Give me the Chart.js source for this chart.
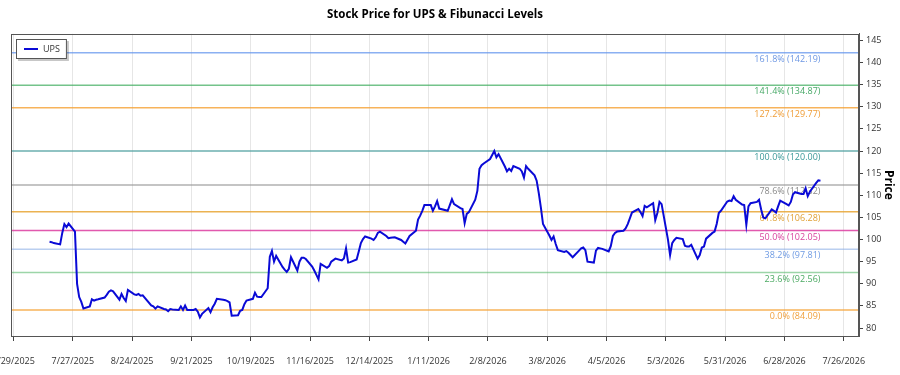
<!DOCTYPE html>
<html>
<head>
<meta charset="utf-8">
<title>Stock Price for UPS &amp; Fibunacci Levels</title>
<script src="https://cdn.jsdelivr.net/npm/chart.js@4.4.1/dist/chart.umd.min.js"></script>
<style>
    html, body { margin: 0; padding: 0; background: #fff; }
    #wrap { width: 900px; height: 375px; }
</style>
</head>
<body>
<div id="wrap"><canvas id="chart" width="900" height="375"></canvas></div>
<script>
// --- Data ---
const tickerName = 'UPS';
const chartTitle = 'Stock Price for UPS & Fibunacci Levels';
const yAxisTitle = 'Price';

const tradeDates = [
    '2025-07-16','2025-07-17','2025-07-18','2025-07-21','2025-07-22','2025-07-23','2025-07-24','2025-07-25',
    '2025-07-28','2025-07-29','2025-07-30','2025-07-31','2025-08-01','2025-08-04','2025-08-05','2025-08-06',
    '2025-08-07','2025-08-08','2025-08-11','2025-08-12','2025-08-13','2025-08-14','2025-08-15','2025-08-18',
    '2025-08-19','2025-08-20','2025-08-21','2025-08-22','2025-08-25','2025-08-26','2025-08-27','2025-08-28',
    '2025-08-29','2025-09-02','2025-09-03','2025-09-04','2025-09-05','2025-09-08','2025-09-09','2025-09-10',
    '2025-09-11','2025-09-12','2025-09-15','2025-09-16','2025-09-17','2025-09-18','2025-09-19','2025-09-22',
    '2025-09-23','2025-09-24','2025-09-25','2025-09-26','2025-09-29','2025-09-30','2025-10-01','2025-10-02',
    '2025-10-03','2025-10-06','2025-10-07','2025-10-08','2025-10-09','2025-10-10','2025-10-13','2025-10-14',
    '2025-10-15','2025-10-16','2025-10-17','2025-10-20','2025-10-21','2025-10-22','2025-10-23','2025-10-24',
    '2025-10-27','2025-10-28','2025-10-29','2025-10-30','2025-10-31','2025-11-03','2025-11-04','2025-11-05',
    '2025-11-06','2025-11-07','2025-11-10','2025-11-11','2025-11-12','2025-11-13','2025-11-14','2025-11-17',
    '2025-11-18','2025-11-19','2025-11-20','2025-11-21','2025-11-24','2025-11-25','2025-11-26','2025-11-28',
    '2025-12-01','2025-12-02','2025-12-03','2025-12-04','2025-12-05','2025-12-08','2025-12-09','2025-12-10',
    '2025-12-11','2025-12-12','2025-12-15','2025-12-16','2025-12-17','2025-12-18','2025-12-19','2025-12-22',
    '2025-12-23','2025-12-24','2025-12-26','2025-12-29','2025-12-30','2025-12-31','2026-01-02','2026-01-05',
    '2026-01-06','2026-01-07','2026-01-08','2026-01-09','2026-01-12','2026-01-13','2026-01-14','2026-01-15',
    '2026-01-16','2026-01-20','2026-01-21','2026-01-22','2026-01-23','2026-01-26','2026-01-27','2026-01-28',
    '2026-01-29','2026-01-30','2026-02-02','2026-02-03','2026-02-04','2026-02-05','2026-02-06','2026-02-09',
    '2026-02-10','2026-02-11','2026-02-12','2026-02-13','2026-02-16','2026-02-17','2026-02-18','2026-02-19',
    '2026-02-20','2026-02-23','2026-02-24','2026-02-25','2026-02-26','2026-02-27','2026-03-02','2026-03-03',
    '2026-03-04','2026-03-05','2026-03-06','2026-03-09','2026-03-10','2026-03-11','2026-03-12','2026-03-13',
    '2026-03-16','2026-03-17','2026-03-18','2026-03-19','2026-03-20','2026-03-23','2026-03-24','2026-03-25',
    '2026-03-26','2026-03-27','2026-03-30','2026-03-31','2026-04-01','2026-04-02','2026-04-03','2026-04-06',
    '2026-04-07','2026-04-08','2026-04-09','2026-04-10','2026-04-13','2026-04-14','2026-04-15','2026-04-16',
    '2026-04-17','2026-04-20','2026-04-21','2026-04-22','2026-04-23','2026-04-24','2026-04-27','2026-04-28',
    '2026-04-29','2026-04-30','2026-05-01','2026-05-04','2026-05-05','2026-05-06','2026-05-07','2026-05-08',
    '2026-05-11','2026-05-12','2026-05-13','2026-05-14','2026-05-15','2026-05-18','2026-05-19','2026-05-20',
    '2026-05-21','2026-05-22','2026-05-25','2026-05-26','2026-05-27','2026-05-28','2026-05-29','2026-06-01',
    '2026-06-02','2026-06-03','2026-06-04','2026-06-05','2026-06-08','2026-06-09','2026-06-10','2026-06-11',
    '2026-06-12','2026-06-15','2026-06-16','2026-06-17','2026-06-18','2026-06-19','2026-06-22','2026-06-23',
    '2026-06-24','2026-06-25','2026-06-26','2026-06-29','2026-06-30','2026-07-01','2026-07-02','2026-07-03',
    '2026-07-06','2026-07-07','2026-07-08','2026-07-09','2026-07-10','2026-07-13','2026-07-14','2026-07-15'
];

const closePrices = [
    99.5, 99.4, 99.2, 98.9, 101.5, 103.5, 102.8, 103.6,
    101.8, 90.0, 87.0, 85.9, 84.4, 84.9, 86.5, 86.2,
    86.4, 86.5, 86.9, 87.5, 88.2, 88.5, 88.3, 86.4,
    87.7, 86.8, 86.1, 88.6, 87.6, 87.5, 87.7, 87.3,
    87.4, 85.1, 84.9, 84.4, 84.9, 84.3, 84.2, 83.8,
    84.3, 84.2, 84.1, 84.9, 84.1, 85.1, 84.1, 84.1,
    84.3, 83.7, 82.4, 83.2, 84.5, 83.6, 84.7, 85.5,
    86.6, 86.4, 86.3, 86.1, 85.8, 82.8, 82.9, 83.9,
    84.1, 85.4, 86.2, 86.6, 88.0, 87.1, 87.0, 87.0,
    89.0, 96.1, 97.4, 95.0, 96.3, 93.8, 93.2, 92.7,
    93.4, 96.0, 93.0, 95.0, 95.9, 95.9, 95.6, 93.9,
    93.0, 92.0, 91.0, 94.5, 93.6, 94.0, 95.0, 95.7,
    95.3, 95.7, 98.0, 94.8, 94.9, 95.5, 97.3, 99.2,
    100.1, 100.7, 100.2, 99.9, 100.5, 101.5, 101.8, 100.8,
    100.3, 100.4, 100.5, 99.9, 99.5, 99.1, 100.8, 102.0,
    104.5, 105.4, 106.5, 107.8, 107.8, 106.5, 107.5, 108.7,
    107.0, 106.5, 107.8, 109.1, 108.0, 107.1, 106.9, 103.7,
    105.8, 106.2, 109.0, 111.0, 116.0, 116.8, 117.2, 118.2,
    119.1, 120.0, 118.6, 119.3, 116.5, 115.4, 116.0, 115.5,
    116.6, 116.0, 115.4, 114.0, 116.6, 116.0, 114.5, 113.3,
    110.5, 107.2, 103.5, 100.9, 99.9, 100.7, 99.0, 97.6,
    97.2, 97.4, 97.0, 96.5, 96.0, 97.5, 98.0, 98.2,
    97.6, 95.0, 94.8, 97.5, 98.1, 98.0, 97.9, 97.3,
    98.5, 100.8, 101.5, 101.8, 102.0, 102.5, 103.5, 104.8,
    106.1, 106.9, 106.2, 105.3, 107.6, 107.3, 108.2, 104.4,
    106.0, 108.5, 108.0, 100.0, 96.5, 99.2, 99.9, 100.4,
    100.1, 98.6, 98.4, 98.4, 98.8, 95.7, 96.5, 98.2,
    98.4, 100.2, 101.5, 101.8, 103.5, 106.0, 106.5, 108.6,
    108.8, 108.7, 109.8, 109.0, 107.9, 107.8, 103.3, 107.5,
    108.2, 108.5, 109.0, 106.8, 105.0, 104.8, 106.8, 106.5,
    106.1, 107.5, 108.8, 108.0, 107.7, 108.5, 110.2, 110.7,
    110.3, 110.3, 111.6, 109.8, 110.8, 112.8, 113.4, 113.3
];

const fibRatios = ['0.0%', '23.6%', '38.2%', '50.0%', '61.8%', '78.6%', '100.0%', '127.2%', '141.4%', '161.8%'];
const fibLevels = [84.09, 92.56, 97.81, 102.05, 106.28, 112.32, 120.00, 129.77, 134.87, 142.19];

const xTickLabels = ['6/29/2025', '7/27/2025', '8/24/2025', '9/21/2025', '10/19/2025', '11/16/2025', '12/14/2025',
    '1/11/2026', '2/8/2026', '3/8/2026', '4/5/2026', '5/3/2026', '5/31/2026', '6/28/2026', '7/26/2026'];
const yTickStep = 5;
const yAxisMin = 78.2;
const yAxisMax = 146.5;

// --- Estilos ---
const fibLineColors = [
    'rgba(245,166,60,0.85)', 'rgba(90,185,110,0.6)', 'rgba(140,175,230,0.6)', 'rgba(220,60,160,0.85)',
    'rgba(232,165,50,0.85)', 'rgba(150,150,150,0.75)', 'rgba(80,160,160,0.85)', 'rgba(245,160,50,0.8)',
    'rgba(70,175,100,0.75)', 'rgba(100,149,237,0.75)'
];
const fibTextColors = [
    '#f0a03c', '#4caa63', '#6f9be3', '#d9449e', '#e0a035', '#8a8a8a', '#3a9999', '#ef9c35', '#45a865', '#6d97e3'
];
const lineColor = '#0a0ad6';
const fontFamily = "'Segoe UI', 'Open Sans', sans-serif";

// --- Helpers ---
const DAY_MS = 86400000;
function parseTickLabel(s) {
    const [m, d, y] = s.split('/').map(Number);
    return Date.UTC(y, m - 1, d);
}
const originMs = parseTickLabel(xTickLabels[0]);
const dayOf = iso => (Date.parse(iso) - originMs) / DAY_MS;
const tickDays = xTickLabels.map(s => (parseTickLabel(s) - originMs) / DAY_MS);

const dataDays = tradeDates.map(dayOf);
const span = dataDays[dataDays.length - 1] - dataDays[0];
const xMin = dataDays[0] - span * 0.05;
const xMax = dataDays[dataDays.length - 1] + span * 0.05;
const lastDay = dataDays[dataDays.length - 1];

// --- Datasets ---
const priceDataset = {
    label: tickerName,
    data: dataDays.map((d, i) => ({ x: d, y: closePrices[i] })),
    borderColor: lineColor,
    borderWidth: 2,
    pointRadius: 0,
    tension: 0,
    fill: false
};

const fibDatasets = fibLevels.map((lvl, i) => ({
    label: fibRatios[i],
    data: [{ x: xMin, y: lvl }, { x: xMax, y: lvl }],
    borderColor: fibLineColors[i],
    borderWidth: 1.5,
    pointRadius: 0,
    fill: false
}));

// --- Plugins ---
const fibLabelPlugin = {
    id: 'fibLabels',
    beforeDatasetsDraw(chart) {
        const { ctx, scales: { x, y } } = chart;
        ctx.save();
        ctx.font = '9px ' + fontFamily;
        ctx.textAlign = 'right';
        ctx.textBaseline = 'top';
        const px = x.getPixelForValue(lastDay);
        fibLevels.forEach((lvl, i) => {
            ctx.fillStyle = fibTextColors[i];
            ctx.fillText(`${fibRatios[i]} (${lvl.toFixed(2)})`, px, y.getPixelForValue(lvl) + 2);
        });
        ctx.restore();
    }
};

const frameAndLegendPlugin = {
    id: 'frameAndLegend',
    afterDraw(chart) {
        const { ctx, chartArea: a } = chart;
        ctx.save();
        // moldura da área do gráfico
        ctx.strokeStyle = '#555';
        ctx.lineWidth = 1;
        ctx.strokeRect(Math.round(a.left) + 0.5, Math.round(a.top) + 0.5,
            Math.round(a.right - a.left) - 1, Math.round(a.bottom - a.top));

        // legenda
        ctx.font = '9px ' + fontFamily;
        const tw = ctx.measureText(tickerName).width;
        const x0 = Math.round(a.left) + 5, y0 = Math.round(a.top) + 5;
        const w = 27 + tw + 7, h = 20;
        ctx.fillStyle = 'rgba(0,0,0,0.22)';
        ctx.fillRect(x0 + 2, y0 + 2, w, h);
        ctx.fillStyle = '#fff';
        ctx.fillRect(x0, y0, w, h);
        ctx.strokeStyle = '#555';
        ctx.strokeRect(x0 + 0.5, y0 + 0.5, w - 1, h - 1);
        ctx.strokeStyle = lineColor;
        ctx.lineWidth = 2;
        ctx.beginPath();
        ctx.moveTo(x0 + 8, y0 + 10);
        ctx.lineTo(x0 + 22, y0 + 10);
        ctx.stroke();
        ctx.fillStyle = '#333';
        ctx.textBaseline = 'middle';
        ctx.fillText(tickerName, x0 + 27, y0 + 10);
        ctx.restore();
    }
};

// --- Chart ---
new Chart(document.getElementById('chart').getContext('2d'), {
    type: 'line',
    data: { datasets: [priceDataset, ...fibDatasets] },
    plugins: [fibLabelPlugin, frameAndLegendPlugin],
    options: {
        responsive: false,
        animation: false,
        devicePixelRatio: 1,
        layout: { padding: { left: 11, right: 0, top: 0, bottom: 0 } },
        plugins: {
            legend: { display: false },
            tooltip: { enabled: false },
            title: {
                display: true,
                text: chartTitle,
                fullSize: false,
                color: '#000',
                font: { family: fontFamily, size: 11.5, weight: 'bold' },
                padding: { top: 8, bottom: 12 }
            }
        },
        scales: {
            x: {
                type: 'linear',
                min: xMin,
                max: xMax,
                afterBuildTicks(scale) {
                    scale.ticks = tickDays.map(v => ({ value: v }));
                },
                afterFit(scale) {
                    scale.paddingLeft = 0;
                    scale.paddingRight = 0;
                    scale.height = 39;
                },
                ticks: {
                    autoSkip: false,
                    maxRotation: 0,
                    padding: 15,
                    color: '#333',
                    font: { family: fontFamily, size: 9 },
                    callback: v => xTickLabels[tickDays.indexOf(v)] ?? ''
                },
                grid: { color: '#e6e6e6', tickColor: '#444', tickLength: 5 },
                border: { color: '#555' }
            },
            y: {
                type: 'linear',
                position: 'right',
                min: yAxisMin,
                max: yAxisMax,
                afterFit(scale) {
                    scale.width = 41;
                    scale.paddingTop = 0;
                    scale.paddingBottom = 0;
                },
                ticks: {
                    stepSize: yTickStep,
                    includeBounds: false,
                    padding: 3,
                    color: '#333',
                    font: { family: fontFamily, size: 9 }
                },
                grid: { drawOnChartArea: false, tickColor: '#444', tickLength: 4 },
                border: { color: '#555' },
                title: {
                    display: true,
                    text: yAxisTitle,
                    color: '#000',
                    font: { family: fontFamily, size: 12, weight: 'bold' },
                    padding: { top: 4, bottom: 0 }
                }
            }
        }
    }
});
</script>
</body>
</html>
